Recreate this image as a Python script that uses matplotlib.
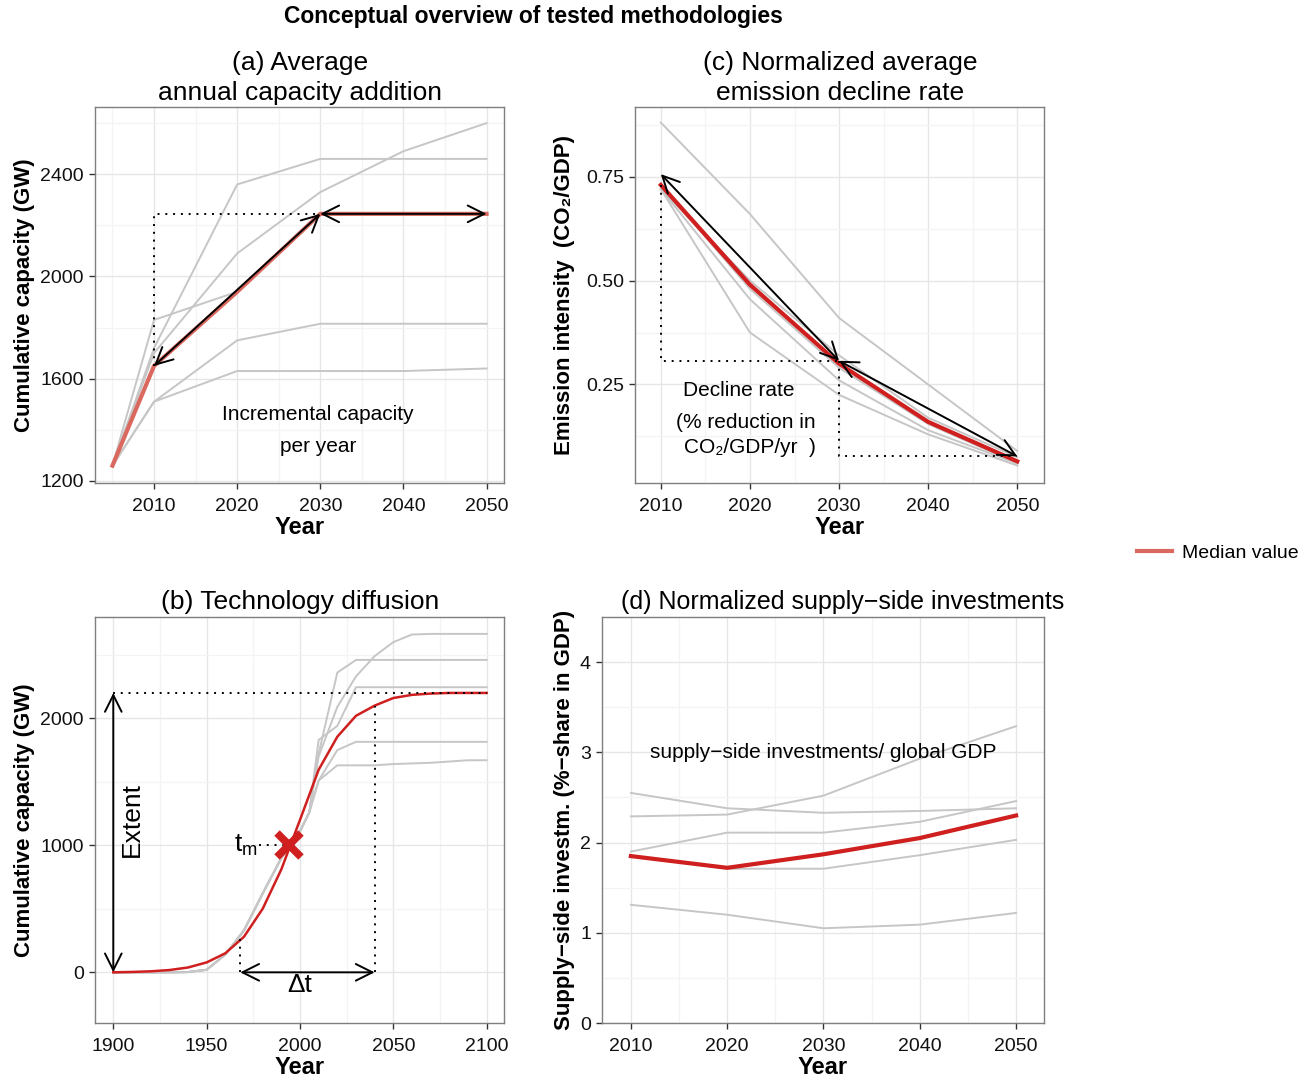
import matplotlib
matplotlib.use("Agg")
import matplotlib.pyplot as plt
from matplotlib.lines import Line2D

plt.rcParams['font.family'] = ['Liberation Sans', 'DejaVu Sans']

# --- (a)/(b) cumulative capacity scenarios (GW) ---
cap_years = [2005, 2010, 2020, 2030, 2040, 2050, 2060, 2070, 2080, 2090, 2100]
cap_s1 = [1260, 1720, 2360, 2460, 2460, 2460, 2460, 2460, 2460, 2460, 2460]
cap_s2 = [1260, 1700, 2090, 2330, 2490, 2600, 2660, 2665, 2665, 2665, 2665]
cap_s3 = [1260, 1830, 1940, 2245, 2245, 2245, 2245, 2245, 2245, 2245, 2245]
cap_s4 = [1260, 1510, 1750, 1815, 1815, 1815, 1815, 1815, 1815, 1815, 1815]
cap_s5 = [1260, 1510, 1630, 1630, 1630, 1640, 1645, 1650, 1660, 1670, 1670]
cap_median = [1260, 1650, 1940, 2245, 2245, 2245]

# history shared by all scenarios in (b)
hist_years = [1900, 1910, 1920, 1930, 1940, 1950, 1960, 1970, 1980, 1990, 2000]
hist_cap = [0, 0, 0, 0, 2, 20, 140, 330, 620, 900, 1110]

# fitted logistic curve in (b)
diff_years = [1900, 1910, 1920, 1930, 1940, 1950, 1960, 1970, 1980, 1990, 2000,
              2010, 2020, 2030, 2040, 2050, 2060, 2070, 2080, 2090, 2100]
diff_median = [0, 3, 8, 18, 38, 78, 150, 280, 500, 810, 1200,
               1595, 1855, 2020, 2100, 2160, 2185, 2195, 2200, 2200, 2200]
diff_extent = 2200
diff_tm = 1994
diff_t_start = 1968
diff_t_end = 2040

# --- (c) emission intensity ---
em_years = [2010, 2020, 2030, 2040, 2050]
em_s1 = [0.88, 0.66, 0.41, 0.25, 0.09]
em_s2 = [0.72, 0.375, 0.225, 0.13, 0.055]
em_s3 = [0.72, 0.455, 0.26, 0.14, 0.06]
em_s4 = [0.72, 0.50, 0.32, 0.17, 0.075]
em_s5 = [0.73, 0.48, 0.29, 0.155, 0.06]
em_median = [0.73, 0.49, 0.30, 0.16, 0.065]
em_arrow = [0.756, 0.307, 0.077]

# --- (d) supply-side investments (% of GDP) ---
inv_years = [2010, 2020, 2030, 2040, 2050]
inv_s1 = [2.55, 2.38, 2.33, 2.35, 2.38]
inv_s2 = [2.29, 2.31, 2.52, 2.93, 3.29]
inv_s3 = [1.90, 2.11, 2.11, 2.23, 2.46]
inv_s4 = [1.85, 1.71, 1.71, 1.86, 2.03]
inv_s5 = [1.31, 1.20, 1.05, 1.09, 1.22]
inv_median = [1.85, 1.72, 1.87, 2.05, 2.30]

GREY = '#C6C6C6'
RED = '#CF1F1F'
SALMON = '#DA685E'
DOT = (0, (1, 3))
ARROW = dict(arrowstyle='<->,head_length=0.6,head_width=0.3', color='black',
             lw=1.4, shrinkA=0, shrinkB=0, mutation_scale=20)


def style(ax, xmaj, xmin, ymaj, ymin, xlim, ylim):
    ax.set_xticks(xmaj)
    ax.set_xticks(xmin, minor=True)
    ax.set_yticks(ymaj)
    ax.set_yticks(ymin, minor=True)
    # limits after ticks, set_ticks would widen them otherwise
    ax.set_xlim(xlim)
    ax.set_ylim(ylim)
    ax.grid(which='major', color='#E6E6E6', lw=1.0)
    ax.grid(which='minor', color='#F4F4F4', lw=0.9)
    ax.set_axisbelow(True)
    ax.tick_params(which='minor', length=0)
    ax.tick_params(which='major', length=4, width=1, color='#333333',
                   labelsize=14, labelcolor='#111111')
    ax.tick_params(axis='x', pad=7)
    ax.tick_params(axis='y', pad=4)
    for s in ax.spines.values():
        s.set_color('#7F7F7F')
        s.set_linewidth(1.0)


def arrow(ax, p0, p1):
    ax.annotate('', xy=p1, xytext=p0, arrowprops=ARROW)


fig = plt.figure(figsize=(13.05, 10.8), dpi=100)
W, H = 1305, 1080


def add_axes(l, t, r, b):
    return fig.add_axes([l / W, 1 - b / H, (r - l) / W, (b - t) / H])


ax_a = add_axes(95, 107, 504, 483)
ax_c = add_axes(635, 107, 1044, 483)
ax_b = add_axes(95, 617, 504, 1023)
ax_d = add_axes(602, 617, 1044, 1023)

# ---- (a) ----
for s in [cap_s1, cap_s2, cap_s3, cap_s4, cap_s5]:
    ax_a.plot(cap_years[:6], s[:6], color=GREY, lw=1.4)
ax_a.plot(cap_years[:6], cap_median, color=SALMON, lw=3)
ax_a.plot([2010, 2010, 2030], [cap_median[1], cap_median[3], cap_median[3]],
          color='black', ls=DOT, lw=1.4)
arrow(ax_a, (2030, cap_median[3]), (2010, cap_median[1]))
arrow(ax_a, (2030, cap_median[3]), (2050, cap_median[5]))
ax_a.text(2029.7, 1459, 'Incremental capacity', ha='center', va='center', fontsize=15)
ax_a.text(2029.7, 1334, 'per year', ha='center', va='center', fontsize=15)
style(ax_a, [2010, 2020, 2030, 2040, 2050], [2005, 2015, 2025, 2035, 2045],
      [1200, 1600, 2000, 2400], [1400, 1800, 2200, 2600], (2002.9, 2052.1), (1192, 2663))

# ---- (b) ----
for s in [cap_s1, cap_s2, cap_s3, cap_s4, cap_s5]:
    ax_b.plot(hist_years + cap_years, hist_cap + s, color=GREY, lw=1.4)
ax_b.plot(diff_years, diff_median, color=RED, lw=1.8)
ax_b.plot([1900, 2100], [diff_extent, diff_extent], color='black', ls=DOT, lw=1.4)
ax_b.plot([diff_t_start, diff_t_start], [0, 270], color='black', ls=DOT, lw=1.4)
ax_b.plot([diff_t_end, diff_t_end], [0, 2100], color='black', ls=DOT, lw=1.4)
ax_b.plot([1978, diff_tm], [1000, 1000], color='black', ls=DOT, lw=1.4)
arrow(ax_b, (1900, 0), (1900, diff_extent))
arrow(ax_b, (diff_t_start, 0), (diff_t_end, 0))
ax_b.plot([diff_tm], [1000], marker='x', color=RED, ms=17, mew=5.5)
ax_b.text(1910, 1200, 'Extent', rotation=90, ha='center', va='center', fontsize=19)
ax_b.text(1977.5, 1000, 't$_\\mathregular{m}$', ha='right', va='center', fontsize=19)
ax_b.text(2000, -100, '\u0394t', ha='center', va='center', fontsize=19)
style(ax_b, [1900, 1950, 2000, 2050, 2100], [1925, 1975, 2025, 2075],
      [0, 1000, 2000], [-500, 500, 1500, 2500], (1890.2, 2109.3), (-399, 2798))

# ---- (c) ----
for s in [em_s1, em_s2, em_s3, em_s4, em_s5]:
    ax_c.plot(em_years, s, color=GREY, lw=1.4)
ax_c.plot(em_years, em_median, color=RED, lw=3)
ax_c.plot([2010, 2010, 2030], [em_median[0], em_arrow[1], em_arrow[1]],
          color='black', ls=DOT, lw=1.4)
ax_c.plot([2030, 2030, 2050], [em_arrow[1], em_arrow[2], em_arrow[2]],
          color='black', ls=DOT, lw=1.4)
arrow(ax_c, (2030, em_arrow[1]), (2010, em_arrow[0]))
arrow(ax_c, (2030, em_arrow[1]), (2050, em_arrow[2]))
ax_c.text(2018.7, 0.236, 'Decline rate', ha='center', va='center', fontsize=15)
ax_c.text(2019.5, 0.159, '(% reduction in', ha='center', va='center', fontsize=15)
ax_c.text(2020.0, 0.099, 'CO\u2082/GDP/yr  )', ha='center', va='center', fontsize=15)
style(ax_c, [2010, 2020, 2030, 2040, 2050], [2015, 2025, 2035, 2045],
      [0.25, 0.50, 0.75], [0.125, 0.375, 0.625, 0.875], (2007.1, 2053.0), (0.013, 0.9175))
ax_c.set_yticklabels(['0.25', '0.50', '0.75'])

# ---- (d) ----
for s in [inv_s1, inv_s2, inv_s3, inv_s4, inv_s5]:
    ax_d.plot(inv_years, s, color=GREY, lw=1.4)
ax_d.plot(inv_years, inv_median, color=RED, lw=3)
ax_d.text(2030, 3.0, 'supply\u2212side investments/ global GDP', ha='center', va='center', fontsize=15)
style(ax_d, [2010, 2020, 2030, 2040, 2050], [2015, 2025, 2035, 2045],
      [0, 1, 2, 3, 4], [0.5, 1.5, 2.5, 3.5], (2007.0, 2052.9), (0, 4.5))

# ---- axis labels ----
lab = dict(fontsize=16, fontweight='bold')
ax_a.set_ylabel('Cumulative capacity (GW)', **lab)
ax_b.set_ylabel('Cumulative capacity (GW)', **lab)
ax_c.set_ylabel('Emission intensity  (CO\u2082/GDP)', **lab)
ax_d.set_ylabel('Supply\u2212side investm. (%\u2212share in GDP)', **lab)
for ax in [ax_a, ax_b, ax_c, ax_d]:
    ax.set_xlabel('Year', fontsize=17, fontweight='bold')
    ax.xaxis.label.set_va('top')
ax_a.yaxis.set_label_coords(-0.147, 0.5)
ax_b.yaxis.set_label_coords(-0.147, 0.5)
ax_c.yaxis.set_label_coords(-0.147, 0.5)
ax_d.yaxis.set_label_coords(-0.061, 0.5)
ax_a.xaxis.set_label_coords(0.5, -0.088)
ax_c.xaxis.set_label_coords(0.5, -0.088)
ax_b.xaxis.set_label_coords(0.5, -0.082)
ax_d.xaxis.set_label_coords(0.5, -0.082)

# ---- titles ----
fig.text(533 / W, 1 - 17 / H, 'Conceptual overview of tested methodologies',
         ha='center', va='center', fontsize=16.5, fontweight='bold')
fig.text(300 / W, 1 - 78 / H, '(a) Average\nannual capacity addition',
         ha='center', va='center', fontsize=19, linespacing=1.3)
fig.text(840 / W, 1 - 78 / H, '(c) Normalized average\nemission decline rate',
         ha='center', va='center', fontsize=19, linespacing=1.3)
fig.text(300 / W, 1 - 602 / H, '(b) Technology diffusion',
         ha='center', va='center', fontsize=19)
fig.text(843 / W, 1 - 602 / H, '(d) Normalized supply\u2212side investments',
         ha='center', va='center', fontsize=18)

fig.legend(handles=[Line2D([], [], color=SALMON, lw=3)], labels=['Median value'],
           loc='center left', bbox_to_anchor=(1137 / W, 1 - 553 / H), frameon=False,
           fontsize=14, handlelength=1.8, borderaxespad=0, borderpad=0, handletextpad=0.5)

fig.savefig('out.png', dpi=100)
